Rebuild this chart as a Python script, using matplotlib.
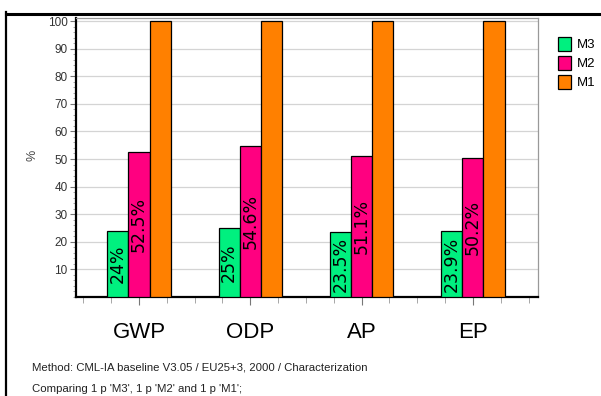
import numpy as np
import matplotlib
matplotlib.use("Agg")
import matplotlib.pyplot as plt
from matplotlib.lines import Line2D
from matplotlib.ticker import MultipleLocator

categories = ["GWP", "ODP", "AP", "EP"]
series = ["M3", "M2", "M1"]
m3 = [24, 25, 23.5, 23.9]
m2 = [52.5, 54.6, 51.1, 50.2]
m1 = [100, 100, 100, 100]
m3_labels = ["24%", "25%", "23.5%", "23.9%"]
m2_labels = ["52.5%", "54.6%", "51.1%", "50.2%"]
colors = ["#00f07f", "#ff0080", "#ff8000"]

narrow = ["Liberation Sans", "DejaVu Sans"]


def main():
    fig = plt.figure(figsize=(6.01, 3.96), dpi=100)
    ax = fig.add_axes([76 / 601, 99 / 396, 462 / 601, 279 / 396])

    x = np.arange(len(categories))
    w = 0.19
    values = [m3, m2, m1]
    bars = []
    for i, (vals, c) in enumerate(zip(values, colors)):
        b = ax.bar(x + (i - 1) * w, vals, w, color=c, edgecolor="black",
                   linewidth=0.9, zorder=3, label=series[i])
        bars.append(b)

    # percentage labels inside bars
    for b_set, labs in ((bars[0], m3_labels), (bars[1], m2_labels)):
        for rect, lab in zip(b_set, labs):
            ax.text(rect.get_x() + rect.get_width() / 2, rect.get_height() / 2,
                    lab, rotation=90, ha="center", va="center",
                    fontsize=12.5, family="DejaVu Sans", color="black", zorder=4)

    ax.set_xlim(-0.566, 3.585)
    ax.set_ylim(0, 101.1)

    ax.set_yticks(np.arange(10, 101, 10))
    ax.yaxis.set_minor_locator(MultipleLocator(2))
    ax.set_xticks(x)
    ax.set_xticklabels(categories, family=narrow, fontsize=16)
    ax.xaxis.set_minor_locator(MultipleLocator(0.25))
    for lab in ax.get_yticklabels():
        lab.set_family(narrow)
        lab.set_fontsize(8.5)
        lab.set_color("#333333")

    ax.tick_params(axis="y", which="major", length=4, width=0.8, color="#777777", pad=2)
    ax.tick_params(axis="y", which="minor", length=2, width=0.6, color="#999999")
    ax.tick_params(axis="x", which="major", length=6, width=0.8, color="#777777", pad=12)
    ax.tick_params(axis="x", which="minor", length=4, width=0.6, color="#999999")

    ax.grid(axis="y", color="#d4d4d4", linewidth=0.9, zorder=0)
    ax.set_axisbelow(True)

    for side in ("left", "bottom"):
        ax.spines[side].set_color("black")
        ax.spines[side].set_linewidth(1.6)
    for side in ("top", "right"):
        ax.spines[side].set_color("#999999")
        ax.spines[side].set_linewidth(0.9)

    fig.text(32 / 601, 1 - 155 / 396, "%", rotation=90, ha="center", va="center",
             fontsize=9, color="#444444", family=narrow)

    fig.legend(handles=[bars[0], bars[1], bars[2]], labels=series,
               loc="upper left", bbox_to_anchor=(558 / 601, 1 - 37 / 396),
               frameon=False, handlelength=0.95, handleheight=1.25,
               handletextpad=0.45, labelspacing=0.35, borderaxespad=0,
               borderpad=0, prop={"family": narrow, "size": 9.5})

    fig.text(32 / 601, 1 - 367 / 396,
             "Method: CML-IA baseline V3.05 / EU25+3, 2000 / Characterization",
             ha="left", va="center", fontsize=8.2, family=narrow, color="#222222")
    fig.text(32 / 601, 1 - 389 / 396,
             "Comparing 1 p 'M3', 1 p 'M2' and 1 p 'M1';",
             ha="left", va="center", fontsize=8.2, family=narrow, color="#222222")

    # outer frame lines (left and top)
    fig.add_artist(Line2D([5.5 / 601, 5.5 / 601], [0, 1 - 12 / 396],
                          transform=fig.transFigure, color="black", linewidth=1.6))
    fig.add_artist(Line2D([5.5 / 601, 1], [1 - 13.5 / 396, 1 - 13.5 / 396],
                          transform=fig.transFigure, color="black", linewidth=2.2))

    fig.savefig("out.png", dpi=100)


if __name__ == "__main__":
    main()
